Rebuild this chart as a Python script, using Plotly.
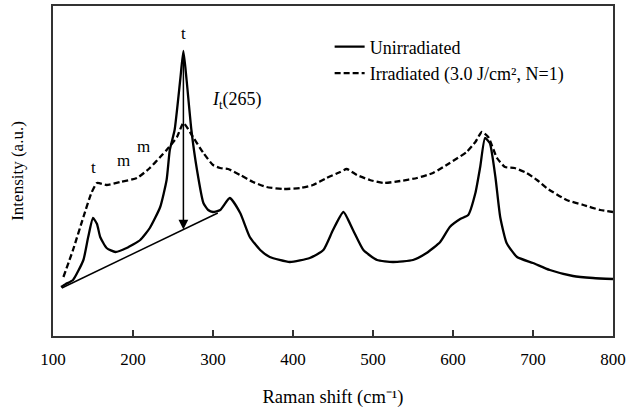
import plotly.graph_objects as go

# Unirradiated spectrum (solid)
unirr_x = [110, 116, 125, 138, 144, 150, 155, 159, 167, 178, 192, 209, 221, 234, 242, 246, 252, 259, 263,
           267, 273, 280, 288, 294, 300, 309, 321, 334, 346, 359, 371, 396, 421, 438, 450, 463, 475, 488,
           505, 525, 550, 567, 584, 596, 609, 619, 628, 634, 640, 646, 653, 659, 667, 680, 700, 721, 750,
           775, 800]
unirr_y = [49, 52, 56, 76, 99, 118, 112, 99, 88, 84, 88, 96, 108, 129, 156, 186, 206, 256, 285,
           256, 206, 166, 133, 126, 124, 126, 138, 123, 99, 86, 79, 74, 78, 86, 106, 124, 106, 86,
           76, 74, 76, 83, 94, 109, 117, 121, 143, 169, 198, 193, 159, 119, 93, 79, 73, 66, 60,
           58, 57]

# Irradiated spectrum (dashed)
irr_x = [113, 125, 138, 148, 155, 167, 184, 205, 221, 234, 242, 255, 263, 275, 288, 300, 309, 319, 334,
         350, 367, 388, 409, 425, 442, 459, 467, 480, 496, 513, 534, 555, 575, 596, 617, 628, 636, 644,
         655, 665, 677, 692, 705, 717, 742, 763, 784, 800]
irr_y = [59, 86, 119, 143, 153, 151, 154, 158, 168, 179, 186, 199, 213, 199, 183, 171, 168, 167, 161,
         154, 149, 147, 148, 151, 158, 164, 167, 161, 156, 153, 155, 158, 163, 173, 184, 194, 204, 199,
         178, 169, 168, 163, 156, 148, 136, 131, 126, 124]

# Baseline used for I_t(265)
baseline_x = [111, 306]
baseline_y = [48, 123]
peak_x = 263
peak_top = 280

# Band labels
label_x = [263, 150, 187.5, 212.5]
label_y = [303, 169, 176, 190]
label_text = ["t", "t", "m", "m"]

x_ticks = [100, 200, 300, 400, 500, 600, 700, 800]

FONT = "Liberation Serif"

fig = go.Figure()
fig.add_trace(go.Scatter(x=unirr_x, y=unirr_y, mode="lines", name="Unirradiated",
                         line=dict(color="black", width=2.3, shape="spline", smoothing=0.5)))
fig.add_trace(go.Scatter(x=irr_x, y=irr_y, mode="lines", name="Irradiated (3.0 J/cm², N=1)",
                         line=dict(color="black", width=2.3, dash="6px,3px", shape="spline", smoothing=0.5)))
fig.add_trace(go.Scatter(x=baseline_x, y=baseline_y, mode="lines", showlegend=False,
                         line=dict(color="black", width=1.5), hoverinfo="skip"))

# baseline value at the peak position
bl_at_peak = baseline_y[0] + (peak_x - baseline_x[0]) * (baseline_y[1] - baseline_y[0]) / (baseline_x[1] - baseline_x[0])

fig.add_annotation(x=peak_x, y=bl_at_peak, ax=peak_x, ay=peak_top, xref="x", yref="y",
                   axref="x", ayref="y", text="", showarrow=True, arrowhead=2, arrowsize=1.3,
                   arrowwidth=1.5, arrowcolor="black", standoff=0)

for tx, ty, tt in zip(label_x, label_y, label_text):
    fig.add_annotation(x=tx, y=ty, text=tt, showarrow=False, xref="x", yref="y",
                       font=dict(family=FONT, size=17, color="black"))

fig.add_annotation(x=330, y=236, text="<i>I</i><sub>t</sub>(265)", showarrow=False,
                   xref="x", yref="y", font=dict(family=FONT, size=18, color="black"))

fig.update_layout(
    width=628, height=410,
    margin=dict(l=53, r=15, t=6, b=74, autoexpand=False),
    plot_bgcolor="white", paper_bgcolor="white",
    font=dict(family=FONT, size=17, color="black"),
    legend=dict(x=0.494, y=0.932, xanchor="left", yanchor="top", bgcolor="rgba(0,0,0,0)",
                font=dict(family=FONT, size=18, color="black"), tracegroupgap=0),
    xaxis=dict(range=[100, 800], tickvals=x_ticks, ticks="inside", ticklen=6, tickwidth=1.5,
               tickcolor="#333", showline=True, linecolor="#333", linewidth=1.5, mirror=True,
               showgrid=False, zeroline=False, automargin=False, ticklabelstandoff=7,
               title=dict(text="Raman shift (cm⁻¹)", font=dict(family=FONT, size=18.5), standoff=22)),
    yaxis=dict(range=[0, 330], showticklabels=False, ticks="", showline=True, linecolor="#333",
               linewidth=1.5, mirror=True, showgrid=False, zeroline=False, automargin=False,
               title=dict(text="Intensity (a.u.)", font=dict(family=FONT, size=17), standoff=23)),
)

fig.write_html("out.html", config={"displayModeBar": False},
               post_script="document.body.style.margin='0';")
